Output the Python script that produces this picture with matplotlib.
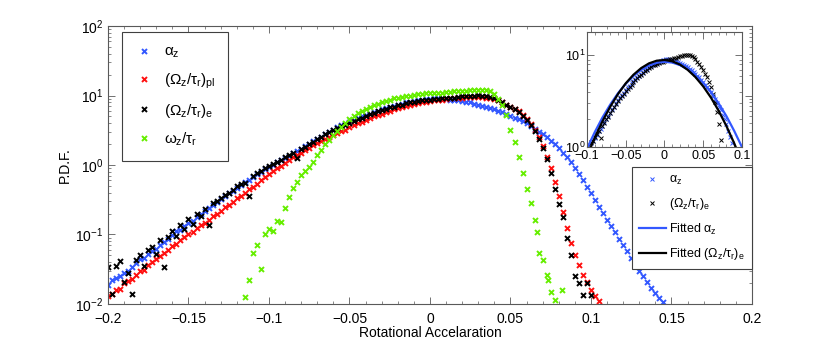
import numpy as np
import matplotlib
matplotlib.use('Agg')
import matplotlib.pyplot as plt
from matplotlib.ticker import MultipleLocator, LogLocator, NullFormatter, FuncFormatter

plt.rcParams['font.family'] = ['Liberation Sans', 'DejaVu Sans']
plt.rcParams['mathtext.fontset'] = 'custom'
plt.rcParams['mathtext.rm'] = 'Liberation Sans'
plt.rcParams['mathtext.it'] = 'Liberation Sans'
plt.rcParams['mathtext.bf'] = 'Liberation Sans:bold'

# histogram bins (bin width 0.0025), PDF values
bin_width = 0.0025
start_alpha, start_pl, start_e, start_omega = -0.2, -0.2, -0.2, -0.115

pdf_alpha = [0.019, 0.022, 0.024, 0.025, 0.028, 0.030, 0.034, 0.039, 0.045, 0.046,
             0.052, 0.058, 0.061, 0.071, 0.078, 0.087, 0.098, 0.112, 0.117, 0.132,
             0.145, 0.158, 0.178, 0.195, 0.219, 0.24, 0.263, 0.295, 0.324, 0.355,
             0.389, 0.427, 0.468, 0.513, 0.562, 0.617, 0.676, 0.741, 0.794, 0.871,
             0.933, 1.00, 1.10, 1.17, 1.26, 1.35, 1.48, 1.58, 1.70, 1.86,
             2.00, 2.19, 2.34, 2.57, 2.75, 3.02, 3.24, 3.47, 3.72, 3.89,
             4.17, 4.47, 4.68, 5.01, 5.25, 5.50, 5.75, 6.03, 6.31, 6.61,
             6.92, 7.08, 7.41, 7.59, 7.94, 8.13, 8.32, 8.51, 8.71, 8.91,
             8.91, 9.12, 9.12, 8.91, 8.91, 8.71, 8.71, 8.51, 8.32, 8.13,
             7.94, 7.59, 7.41, 7.08, 6.92, 6.61, 6.31, 6.03, 5.75, 5.37,
             5.13, 4.79, 4.57, 4.27, 3.98, 3.63, 3.31, 3.02, 2.75, 2.51,
             2.24, 2.00, 1.78, 1.51, 1.29, 1.10, 0.912, 0.741, 0.603, 0.479,
             0.389, 0.316, 0.251, 0.204, 0.162, 0.132, 0.107, 0.087, 0.071, 0.058,
             0.046, 0.037, 0.030, 0.025, 0.021, 0.017, 0.0145, 0.0123, 0.0107]

pdf_pl = [0.0132, 0.0141, 0.0158, 0.0165, 0.020, 0.0214, 0.023, 0.026, 0.0295, 0.031,
          0.036, 0.040, 0.045, 0.049, 0.055, 0.060, 0.068, 0.074, 0.083, 0.091,
          0.100, 0.110, 0.123, 0.135, 0.148, 0.162, 0.182, 0.200, 0.219, 0.245,
          0.269, 0.295, 0.331, 0.363, 0.398, 0.447, 0.490, 0.537, 0.603, 0.661,
          0.741, 0.813, 0.891, 0.977, 1.07, 1.17, 1.29, 1.38, 1.51, 1.62,
          1.78, 1.91, 2.04, 2.19, 2.34, 2.51, 2.69, 2.88, 3.09, 3.24,
          3.47, 3.72, 3.98, 4.17, 4.47, 4.68, 5.01, 5.25, 5.50, 5.75,
          6.03, 6.31, 6.61, 6.92, 7.08, 7.41, 7.59, 7.76, 7.94, 8.13,
          8.32, 8.51, 8.71, 8.71, 8.91, 9.12, 9.12, 9.33, 9.33, 9.55,
          9.55, 9.55, 9.55, 9.55, 9.33, 9.12, 8.91, 8.51, 7.94, 7.41,
          6.92, 6.46, 5.89, 5.25, 4.57, 3.89, 3.16, 2.51, 1.86, 1.32,
          0.891, 0.575, 0.355, 0.209, 0.126, 0.076, 0.050, 0.036, 0.026, 0.021,
          0.0158, 0.0132, 0.011]

pdf_e = [0.034, 0.0138, 0.035, 0.041, 0.021, 0.028, 0.0141, 0.043, 0.050, 0.035,
         0.060, 0.065, 0.052, 0.083, 0.034, 0.093, 0.112, 0.095, 0.138, 0.120,
         0.166, 0.141, 0.200, 0.182, 0.234, 0.138, 0.282, 0.302, 0.339, 0.372,
         0.398, 0.437, 0.501, 0.525, 0.550, 0.363, 0.692, 0.759, 0.832, 0.891,
         0.955, 1.05, 1.12, 1.17, 1.29, 1.38, 1.48, 1.26, 1.70, 1.82,
         2.00, 2.14, 2.34, 2.51, 2.75, 2.95, 3.16, 3.39, 3.63, 3.80,
         4.07, 4.27, 4.57, 4.79, 5.13, 5.37, 5.62, 5.89, 6.17, 6.46,
         6.76, 6.92, 7.24, 7.41, 7.76, 7.94, 8.13, 8.32, 8.51, 8.51,
         8.71, 8.91, 8.91, 9.12, 9.12, 9.33, 9.33, 9.55, 9.77, 9.77,
         10.0, 10.0, 10.2, 10.0, 9.77, 9.55, 9.12, 8.51, 8.13, 7.41,
         6.92, 6.31, 5.75, 5.13, 4.47, 3.80, 3.09, 2.40, 1.78, 1.20,
         0.759, 0.447, 0.275, 0.178, 0.089, 0.050, 0.025, 0.020, 0.0135, 0.020,
         0.0135]

pdf_omega = [0.0126, 0.0224, 0.054, 0.071, 0.032, 0.100, 0.120, 0.112, 0.158, 0.151,
             0.240, 0.347, 0.468, 0.575, 0.708, 0.813, 0.933, 1.12, 1.38, 1.66,
             2.00, 2.29, 2.69, 3.09, 3.55, 4.07, 4.57, 5.13, 5.62, 6.03,
             6.46, 6.92, 7.24, 7.59, 7.94, 8.32, 8.71, 9.12, 9.33, 9.55,
             9.77, 10.0, 10.2, 10.5, 10.5, 10.7, 10.7, 11.0, 11.0, 11.0,
             11.2, 11.2, 11.5, 11.5, 11.7, 11.7, 12.0, 12.0, 12.0, 12.0,
             12.0, 11.5, 10.5, 8.91, 7.24, 5.25, 3.16, 2.14, 1.32, 0.759,
             0.457, 0.282, 0.162, 0.054, 0.043, 0.026, 0.0151, 0.0115]
omega_extra_x = [0.0665, 0.0735, 0.0818]
omega_extra_pdf = [0.11, 0.022, 0.0158]

# Gaussian fits shown in the inset
fit_x = [-0.10, -0.09, -0.08, -0.07, -0.06, -0.05, -0.04, -0.03, -0.02, -0.01, 0.0,
         0.01, 0.02, 0.03, 0.04, 0.05, 0.06, 0.07, 0.08, 0.09, 0.10]
fit_alpha = [0.957, 1.45, 2.10, 2.90, 3.86, 4.90, 5.97, 6.96, 7.77, 8.31, 8.51,
             8.35, 7.84, 7.05, 6.07, 5.01, 3.96, 2.99, 2.17, 1.50, 1.00]
fit_e = [0.787, 1.26, 1.91, 2.75, 3.78, 4.95, 6.15, 7.27, 8.18, 8.75, 8.91,
         8.62, 7.94, 6.95, 5.79, 4.59, 3.46, 2.48, 1.69, 1.10, 0.677]


def bins(start, values):
    return np.round(start + bin_width * np.arange(len(values)), 4)


c_blue = '#3358ff'
c_red = '#ff1010'
c_green = '#66ee00'
c_black = 'k'
spine_c = '0.35'


def fmt(v, pos):
    v = round(v, 6)
    return f'{v:g}'.replace('-', '\u2212')


def style_axes(a, size):
    for s in a.spines.values():
        s.set_color(spine_c)
        s.set_linewidth(0.8)
    a.tick_params(which='both', direction='in', top=True, right=True,
                  color=spine_c, labelsize=size)
    a.tick_params(which='major', length=5, width=0.6)
    a.tick_params(which='minor', length=2.5, width=0.5)


fig = plt.figure(figsize=(8.3, 3.44), dpi=100)
ax = fig.add_axes([0.1301, 0.1163, 0.7759, 0.8081])

mk = dict(ls='none', marker='x', ms=3.6, mew=1.4)
h_a, = ax.plot(bins(start_alpha, pdf_alpha), pdf_alpha, color=c_blue, label=r'$\alpha_z$', **mk)
h_pl, = ax.plot(bins(start_pl, pdf_pl), pdf_pl, color=c_red, label=r'$(\Omega_z/\tau_r)_{pl}$', **mk)
h_e, = ax.plot(bins(start_e, pdf_e), pdf_e, color=c_black, label=r'$(\Omega_z/\tau_r)_e$', **mk)
h_om, = ax.plot(np.concatenate([bins(start_omega, pdf_omega), omega_extra_x]),
                pdf_omega + omega_extra_pdf, color=c_green, label=r'$\omega_z/\tau_r$', **mk)

ax.set_yscale('log')
ax.set_xlim(-0.2, 0.2)
ax.set_ylim(1e-2, 1e2)
ax.xaxis.set_major_locator(MultipleLocator(0.05))
ax.xaxis.set_minor_locator(MultipleLocator(0.01))
ax.xaxis.set_major_formatter(FuncFormatter(fmt))
ax.yaxis.set_minor_locator(LogLocator(base=10, subs=np.arange(2, 10)))
ax.yaxis.set_minor_formatter(NullFormatter())
style_axes(ax, 10)
ax.tick_params(axis='x', which='both', pad=6)
ax.set_xlabel('Rotational Accelaration', fontsize=10, labelpad=0)
ax.set_ylabel('P.D.F.', fontsize=10, labelpad=2)

leg1 = ax.legend(handles=[h_a, h_pl, h_e, h_om], loc='upper left',
                 bbox_to_anchor=(0.147, 0.907), bbox_transform=fig.transFigure,
                 fontsize=11, labelspacing=0.72, borderpad=0.85, handlelength=1.2,
                 handletextpad=0.7, fancybox=False, edgecolor='0.25', framealpha=1,
                 numpoints=1, borderaxespad=0)
leg1.get_frame().set_linewidth(0.8)

# inset
ins = fig.add_axes([0.7072, 0.5727, 0.1867, 0.3343])
mk_s = dict(ls='none', marker='x', ms=2.6, mew=0.7)
hi_a, = ins.plot(bins(start_alpha, pdf_alpha), pdf_alpha, color=c_blue, label=r'$\alpha_z$', **mk_s)
hi_e, = ins.plot(bins(start_e, pdf_e), pdf_e, color=c_black, label=r'$(\Omega_z/\tau_r)_e$', **mk_s)
hf_a, = ins.plot(fit_x, fit_alpha, color=c_blue, lw=1.6, label=r'Fitted $\alpha_z$')
hf_e, = ins.plot(fit_x, fit_e, color=c_black, lw=1.6, label=r'Fitted $(\Omega_z/\tau_r)_e$')
ins.set_yscale('log')
ins.set_xlim(-0.1, 0.1)
ins.set_ylim(1, 18)
ins.xaxis.set_major_locator(MultipleLocator(0.05))
ins.xaxis.set_minor_locator(MultipleLocator(0.01))
ins.xaxis.set_major_formatter(FuncFormatter(fmt))
ins.yaxis.set_minor_locator(LogLocator(base=10, subs=np.arange(2, 10)))
ins.yaxis.set_minor_formatter(NullFormatter())
style_axes(ins, 9)
ins.tick_params(axis='x', pad=2)
ins.tick_params(axis='y', pad=1)

leg2 = fig.legend(handles=[hi_a, hi_e, hf_a, hf_e], loc='upper left',
                  bbox_to_anchor=(0.761, 0.5145), fontsize=9, labelspacing=0.75,
                  borderpad=0.55, handlelength=2.2, handletextpad=0.25, fancybox=False,
                  edgecolor='0.25', framealpha=1, numpoints=1, borderaxespad=0)
leg2.get_frame().set_linewidth(0.8)

fig.savefig('out.png', dpi=100)
